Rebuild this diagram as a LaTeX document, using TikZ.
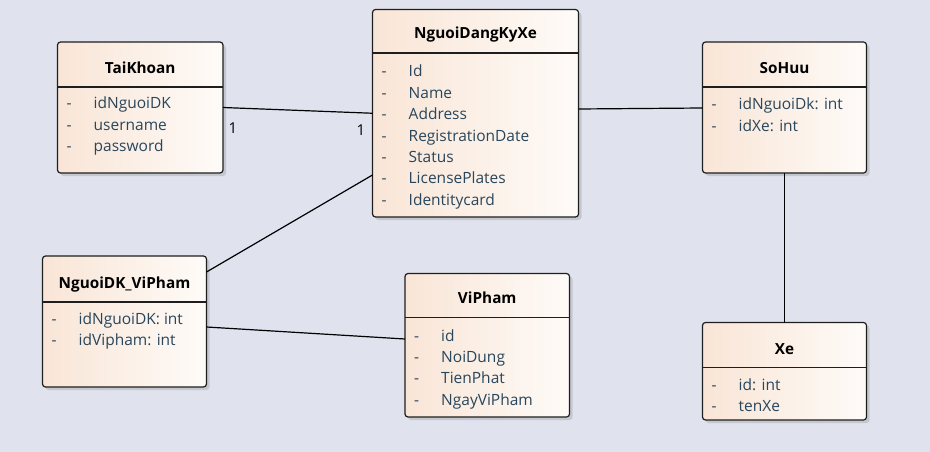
\documentclass[tikz,border=0pt]{standalone}
\usepackage{fontspec}
\setmainfont{Open Sans}
\usetikzlibrary{shadows,calc}
\definecolor{bgc}{RGB}{224,227,237}
\definecolor{peach}{RGB}{249,229,214}
\definecolor{whitish}{RGB}{254,251,248}
\definecolor{attrc}{RGB}{40,70,92}
\definecolor{edgec}{RGB}{30,30,30}
\tikzset{
  umlbox/.style={draw=edgec, line width=1.2pt, rounded corners=3pt,
    left color=peach, right color=whitish, inner sep=0pt, outer sep=0pt,
    drop shadow={opacity=0.22, shadow xshift=3pt, shadow yshift=-3pt, fill=black!60}},
  sepline/.style={draw=edgec, line width=1.1pt},
  titlelbl/.style={font=\fontsize{15.3}{17}\selectfont\bfseries, text=black, inner sep=0pt, anchor=base},
  attrlbl/.style={font=\fontsize{15.5}{17}\selectfont, text=attrc, inner sep=0pt, anchor=base west},
  dashlbl/.style={font=\fontsize{15.5}{17}\selectfont, text=attrc, inner sep=0pt, anchor=base west},
  multlbl/.style={font=\fontsize{15}{17}\selectfont, text=black, inner sep=0pt, anchor=base},
  conn/.style={draw=black, line width=1.2pt},
}
\newcommand\umlclass[7]{% name, x1, y1, x2, y2, sepY, title
  \node[umlbox, anchor=north west, minimum width={(#4-#2)*1pt}, minimum height={(#5-#3)*1pt}] (#1) at (#2,#3) {};
  \draw[sepline] (#1.west |- 0,#6) -- (#1.east |- 0,#6);
}
\newcommand\umltitle[4]{% name, xcenter, ycenter, text
  \node[titlelbl] (#1) at (#2,#3+5.5) {#4};
}
\newcommand\attrrow[4]{% name, x-left, ycenter, text
  \node[dashlbl] (#1d) at (#2+9,#3+5.5) {-};
  \node[attrlbl] (#1) at (#2+36,#3+5.5) {#4};
}
\begin{document}
\begin{tikzpicture}[x=1pt,y=-1pt]
\fill[bgc] (0,0) rectangle (930,452);
\useasboundingbox (0,0) rectangle (930,452);

% TaiKhoan
\umlclass{tk}{57.5}{42}{223}{173}{87}{TaiKhoan}
\umltitle{tkT}{140.25}{68}{TaiKhoan}
\attrrow{tkA}{57.5}{103.3}{idNguoiDK}
\attrrow{tkB}{57.5}{124.6}{username}
\attrrow{tkC}{57.5}{146}{password}

% NguoiDangKyXe
\umlclass{nk}{372.5}{9.5}{578.5}{217}{53}{NguoiDangKyXe}
\umltitle{nkT}{475.5}{33}{NguoiDangKyXe}
\attrrow{nkA}{372.5}{71.4}{Id}
\attrrow{nkB}{372.5}{92.8}{Name}
\attrrow{nkC}{372.5}{114.2}{Address}
\attrrow{nkD}{372.5}{135.6}{RegistrationDate}
\attrrow{nkE}{372.5}{157}{Status}
\attrrow{nkF}{372.5}{178.4}{LicensePlates}
\attrrow{nkG}{372.5}{199.8}{Identitycard}

% SoHuu
\umlclass{sh}{702.5}{42}{866.5}{173}{87}{SoHuu}
\umltitle{shT}{784.5}{68}{SoHuu}
\attrrow{shA}{702.5}{104.3}{idNguoiDk: int}
\attrrow{shB}{702.5}{125.6}{idXe: int}

% NguoiDK_ViPham
\umlclass{nv}{42.5}{256}{206.5}{387}{302}{NguoiDK\_ViPham}
\umltitle{nvT}{124.5}{283}{NguoiDK\_ViPham}
\attrrow{nvA}{42.5}{319}{idNguoiDK: int}
\attrrow{nvB}{42.5}{340.3}{idVipham: int}

% ViPham
\umlclass{vp}{405}{273.5}{569.5}{417}{317.5}{ViPham}
\umltitle{vpT}{487.25}{298}{ViPham}
\attrrow{vpA}{405}{335.7}{id}
\attrrow{vpB}{405}{357}{NoiDung}
\attrrow{vpC}{405}{378.4}{TienPhat}
\attrrow{vpD}{405}{399.8}{NgayViPham}

% Xe
\umlclass{xe}{702.5}{322.5}{866.5}{420}{367.5}{Xe}
\umltitle{xeT}{784.5}{349}{Xe}
\attrrow{xeA}{702.5}{385}{id: int}
\attrrow{xeB}{702.5}{406.3}{tenXe}

% connectors
\draw[conn] (tk.east) -- (nk.west);
\draw[conn] (nk.east |- 0,109) -- (sh.west |- 0,108);
\draw[conn] (sh.south) -- (xe.north);
\draw[conn] (nv.north east |- 0,272) -- (nk.south west |- 0,175);
\draw[conn] (nv.east |- 0,327) -- (vp.west |- 0,339);

\node[multlbl] (m1) at (233,128+5.5) {1};
\node[multlbl] (m2) at (361,130+5.5) {1};
\end{tikzpicture}
\end{document}
